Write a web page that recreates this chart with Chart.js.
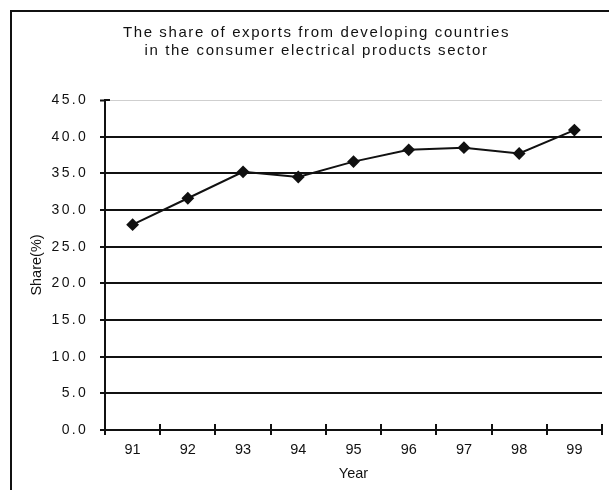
<!DOCTYPE html>
<html>
<head>
<meta charset="utf-8">
<script src="https://cdn.jsdelivr.net/npm/chart.js@4/dist/chart.umd.min.js"></script>
<style>
  html, body { margin: 0; padding: 0; background: #fff; }
  #wrap { width: 609px; height: 490px; position: relative; }
</style>
</head>
<body>
<div id="wrap"><canvas id="shareChart"></canvas></div>
<script>
// --- data ---
const years = ['91', '92', '93', '94', '95', '96', '97', '98', '99'];
const shareValues = [28.0, 31.6, 35.2, 34.5, 36.6, 38.2, 38.5, 37.7, 40.9];
const titleLines = [
  'The share of exports from developing countries',
  'in the consumer electrical products sector',
];
const yMin = 0, yMax = 45, yStep = 5;

const FONT = "'Liberation Sans', Arial, sans-serif";
const INK = '#111';

// wrap a scale/box draw method so its text gets its own letter spacing (and shift)
function withSpacing(obj, method, spacing, dx = 0) {
  if (!obj || obj['_sp_' + method]) return;
  const orig = obj[method];
  obj[method] = function (...args) {
    const ctx = this.ctx;
    ctx.save();
    ctx.letterSpacing = spacing;
    if (dx) ctx.translate(dx, 0);
    orig.apply(this, args);
    ctx.restore();
  };
  obj['_sp_' + method] = true;
}

// frame around the whole chart + spacing setup
const framePlugin = {
  id: 'frame',
  afterUpdate(chart) {
    // title sits a bit right of the canvas centre in the original
    withSpacing(chart.titleBlock, 'draw', '1.6px', 14);
    withSpacing(chart.scales.y, 'drawLabels', '2.3px');
    withSpacing(chart.scales.x, 'drawLabels', '0px');
  },
  beforeDraw(chart) {
    const ctx = chart.ctx;
    ctx.save();
    ctx.strokeStyle = INK;
    ctx.lineWidth = 2;
    ctx.strokeRect(11, 11, chart.width + 20, chart.height + 20);
    ctx.restore();
  },
};

// tick marks that cross into the plot area (Excel style)
const crossTicksPlugin = {
  id: 'crossTicks',
  afterDatasetsDraw(chart) {
    const { ctx, chartArea, scales } = chart;
    ctx.save();
    ctx.strokeStyle = INK;
    ctx.lineWidth = 2;
    ctx.beginPath();
    for (let i = 0; i <= years.length; i++) {
      const x = Math.round(scales.x.getPixelForValue(i - 0.5));
      ctx.moveTo(x, chartArea.bottom);
      ctx.lineTo(x, chartArea.bottom - 6);
    }
    scales.y.ticks.forEach((t) => {
      const y = Math.round(scales.y.getPixelForValue(t.value));
      ctx.moveTo(chartArea.left, y);
      ctx.lineTo(chartArea.left + 5, y);
    });
    ctx.stroke();
    ctx.restore();
  },
};

new Chart(document.getElementById('shareChart'), {
  type: 'line',
  data: {
    labels: years,
    datasets: [
      {
        label: 'Share',
        data: shareValues,
        borderColor: INK,
        borderWidth: 2,
        backgroundColor: INK,
        pointStyle: 'rectRot',
        pointRadius: 5,
        pointBackgroundColor: INK,
        pointBorderColor: INK,
        tension: 0,
      },
    ],
  },
  plugins: [framePlugin, crossTicksPlugin],
  options: {
    responsive: true,
    maintainAspectRatio: false,
    animation: false,
    layout: { padding: { left: 0, right: 4, top: 0, bottom: 0 } },
    plugins: {
      legend: { display: false },
      tooltip: { enabled: false },
      title: {
        display: true,
        text: titleLines,
        color: INK,
        font: { family: FONT, size: 15, weight: 'normal', lineHeight: 1.25 },
        padding: { top: 23, bottom: 39.5 },
        align: 'center',
      },
    },
    scales: {
      x: {
        type: 'category',
        offset: true,
        afterFit(scale) { scale.height = 60; },
        grid: {
          offset: true,
          drawOnChartArea: false,
          color: INK,
          lineWidth: 2,
          tickLength: 5,
        },
        border: { display: true, color: INK, width: 2 },
        ticks: { color: INK, font: { family: FONT, size: 14.5 }, padding: 6, maxRotation: 0 },
        title: {
          display: true,
          text: 'Year',
          color: INK,
          font: { family: FONT, size: 14.5 },
          padding: { top: 0, bottom: 7 },
        },
      },
      y: {
        min: yMin,
        max: yMax,
        afterFit(scale) { scale.width = 105; },
        grid: {
          color: (c) => (c.tick && c.tick.value === yMax ? '#cfcfcf' : INK),
          lineWidth: (c) => (c.tick && c.tick.value === yMax ? 1 : 2),
          tickColor: INK,
          tickWidth: 2,
          tickLength: 5,
        },
        border: { display: true, color: INK, width: 2 },
        ticks: {
          stepSize: yStep,
          color: INK,
          font: { family: FONT, size: 14 },
          padding: 12,
          callback: (v) => Number(v).toFixed(1),
        },
        title: {
          display: true,
          text: 'Share(%)',
          color: INK,
          font: { family: FONT, size: 14.5 },
          padding: { top: 28, bottom: 0 },
        },
      },
    },
  },
});
</script>
</body>
</html>
